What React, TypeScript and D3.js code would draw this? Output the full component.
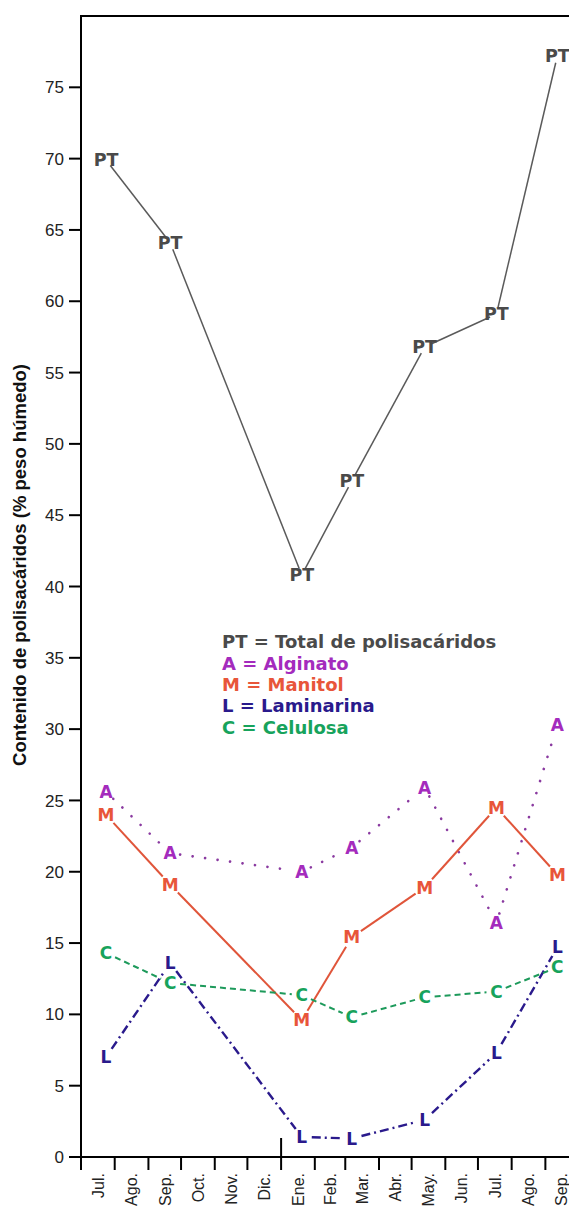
import React from "react";
import * as d3 from "d3";

const monthLabels = ["Jul.", "Ago.", "Sep.", "Oct.", "Nov.", "Dic.", "Ene.", "Feb.", "Mar.", "Abr.", "May.", "Jun.", "Jul.", "Ago.", "Sep."];
const sampleDates = ["2009-07-24", "2009-09-21", "2010-01-20", "2010-03-07", "2010-05-13", "2010-07-18", "2010-09-12"];
const totalPolisacaridos = [69.9, 64.1, 40.8, 47.4, 56.8, 59.1, 77.2];
const alginato = [25.6, 21.3, 20.0, 21.7, 25.9, 16.4, 30.3];
const manitol = [24.0, 19.1, 9.6, 15.4, 18.9, 24.5, 19.8];
const laminarina = [7.0, 13.6, 1.4, 1.3, 2.6, 7.3, 14.7];
const celulosa = [14.3, 12.2, 11.35, 9.8, 11.2, 11.6, 13.3];
const yTicks = [0, 5, 10, 15, 20, 25, 30, 35, 40, 45, 50, 55, 60, 65, 70, 75];
const legendLabels = ["PT = Total de polisacáridos", "A = Alginato", "M = Manitol", "L = Laminarina", "C = Celulosa"];
const yTitle = "Contenido de polisacáridos (% peso húmedo)";

const W = 569;
const H = 1206;
const left = 81;
const top = 16;
const bottom = 1157;
const right = 578;

const parse = d3.timeParse("%Y-%m-%d");
const dates = sampleDates.map((s) => parse(s) as Date);
const start = new Date(2009, 6, 1);
const end = new Date(2010, 9, 1);

const x = d3.scaleTime().domain([start, end]).range([left, right]);
const y = d3.scaleLinear().domain([0, 80]).range([bottom, top]);

const series = [
  { key: "PT", values: totalPolisacaridos, color: "#4a4a4a", line: "#5a5a5a", width: 1.5, dash: "", cap: "butt", size: 17.5, trim: 7 },
  { key: "A", values: alginato, color: "#a42bbd", line: "#8a3aa0", width: 2.6, dash: "0.1 12.5", cap: "round", size: 17, trim: 10 },
  { key: "M", values: manitol, color: "#e8553a", line: "#e0553a", width: 2, dash: "", cap: "butt", size: 17, trim: 11 },
  { key: "L", values: laminarina, color: "#2a1a8c", line: "#2a1a8c", width: 2.4, dash: "9 4 2 4", cap: "butt", size: 17, trim: 10 },
  { key: "C", values: celulosa, color: "#17a35c", line: "#1d9a5b", width: 2, dash: "6 4", cap: "butt", size: 17, trim: 10 },
];

function trimmed(pts: [number, number][], r: number) {
  const segs: string[] = [];
  for (let i = 0; i < pts.length - 1; i++) {
    const [x1, y1] = pts[i];
    const [x2, y2] = pts[i + 1];
    const dx = x2 - x1;
    const dy = y2 - y1;
    const len = Math.hypot(dx, dy);
    if (len <= 2 * r) continue;
    const ux = dx / len;
    const uy = dy / len;
    const p = d3.path();
    p.moveTo(x1 + ux * r, y1 + uy * r);
    p.lineTo(x2 - ux * r, y2 - uy * r);
    segs.push(p.toString());
  }
  return segs;
}

export default function App() {
  const monthStarts = d3.timeMonth.range(start, end);
  const tickDates = [...monthStarts, end];
  const font = "'Liberation Sans', Arial, sans-serif";
  const boldFont = "'DejaVu Sans', 'Liberation Sans', sans-serif";
  return (
    <svg width={W} height={H} style={{ position: "absolute", left: 0, top: 0, background: "#fff" }}>
      <rect x={0} y={0} width={W} height={H} fill="#fff" />
      {/* frame */}
      <line x1={left} y1={top} x2={W} y2={top} stroke="#000" strokeWidth={2} />
      <line x1={left} y1={top - 1} x2={left} y2={bottom + 1} stroke="#000" strokeWidth={2} />
      <line x1={left - 1} y1={bottom} x2={W} y2={bottom} stroke="#000" strokeWidth={2} />
      {/* y ticks */}
      {yTicks.map((t) => (
        <g key={t}>
          <line x1={left - 12} x2={left} y1={y(t)} y2={y(t)} stroke="#000" strokeWidth={2} />
          <text x={left - 17} y={y(t)} dy="0.36em" textAnchor="end" fontFamily={font} fontSize={17} fill="#222">
            {t}
          </text>
        </g>
      ))}
      {/* x ticks */}
      {tickDates.map((d, i) => (
        <line
          key={i}
          x1={x(d)}
          x2={x(d)}
          y1={d.getMonth() === 0 ? bottom - 19 : bottom}
          y2={bottom + 13}
          stroke="#000"
          strokeWidth={2}
        />
      ))}
      {monthStarts.map((d, i) => {
        const next = d3.timeMonth.offset(d, 1);
        const cx = (x(d) + x(next)) / 2;
        return (
          <text
            key={i}
            transform={`translate(${cx},${bottom + 16}) rotate(-90)`}
            dy="0.36em"
            textAnchor="end"
            fontFamily={font}
            fontSize={16}
            fill="#222"
          >
            {monthLabels[i]}
          </text>
        );
      })}
      {/* y title */}
      <text
        transform={`translate(19,565) rotate(-90)`}
        dy="0.36em"
        textAnchor="middle"
        fontFamily={font}
        fontWeight="bold"
        fontSize={18.5}
        fill="#111"
      >
        {yTitle}
      </text>
      {/* series */}
      {series.map((s) => {
        const pts: [number, number][] = s.values.map((v, i) => [x(dates[i]), y(v)]);
        return (
          <g key={s.key}>
            {trimmed(pts, s.trim).map((d, i) => (
              <path
                key={i}
                d={d}
                fill="none"
                stroke={s.line}
                strokeWidth={s.width}
                strokeDasharray={s.dash || undefined}
                strokeLinecap={s.cap as any}
              />
            ))}
            {pts.map(([px, py], i) => (
              <text
                key={i}
                x={px}
                y={py}
                dy="0.36em"
                textAnchor="middle"
                fontFamily={boldFont}
                fontWeight="bold"
                fontSize={s.size}
                fill={s.color}
              >
                {s.key}
              </text>
            ))}
          </g>
        );
      })}
      {/* legend */}
      {legendLabels.map((l, i) => (
        <text
          key={i}
          x={222}
          y={642 + i * 21.3}
          dy="0.36em"
          fontFamily={boldFont}
          fontWeight="bold"
          fontSize={18}
          fill={series[i].color}
        >
          {l}
        </text>
      ))}
    </svg>
  );
}
